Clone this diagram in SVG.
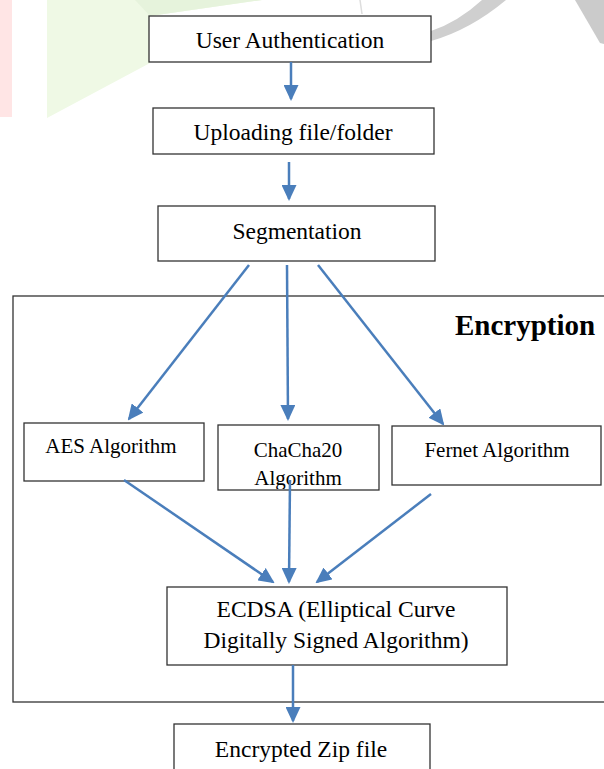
<svg xmlns="http://www.w3.org/2000/svg" width="604" height="769" viewBox="0 0 604 769">
<style>
.box{fill:#fff;stroke:#333;stroke-width:1.3}
.t{font-family:"Liberation Serif","Times New Roman",serif;font-size:23.5px;fill:#000;text-anchor:middle}
.s{font-size:21px}
.c{stroke:#4A7EBB;stroke-width:2.5;fill:none;marker-end:url(#ah)}
</style>
<defs>
<marker id="ah" viewBox="0 0 16 15" refX="14" refY="7.5" markerWidth="16" markerHeight="15" orient="auto" markerUnits="userSpaceOnUse">
<path d="M0,0 L16,7.5 L0,15 Z" fill="#4A7EBB"/>
</marker>
<clipPath id="cc"><rect x="218" y="425" width="161" height="64"/></clipPath>
</defs>
<rect width="604" height="769" fill="#fff"/>
<g id="watermark">
<rect x="0" y="0" width="12" height="117" fill="#FFE5E5"/>
<polygon points="47,0 262,0 150,16 150,63 47,118" fill="#EFF9E5"/>
<polygon points="135,0 262,0 150,16" fill="#E6F3DC"/>
<line x1="360" y1="0" x2="362" y2="14" stroke="#DDD" stroke-width="1.5"/>
<path d="M431,41 Q470,30 506,0 L482,0 Q458,22 431,31 Z" fill="#CFCFCF"/>
<polygon points="575,0 604,0 604,44 600,43" fill="#CBCBCB"/>
</g>
<g id="encryption-frame">
<rect x="13" y="296" width="600" height="406" fill="none" stroke="#333" stroke-width="1.3"/>
<text x="455" y="335" style="font-family:'Liberation Serif','Times New Roman',serif;font-size:29px;font-weight:bold">Encryption</text>
</g>
<g id="n-user-auth">
<rect class="box" x="149" y="16" width="282" height="46"/>
<text class="t" x="290" y="48">User Authentication</text>
</g>
<g id="n-upload">
<rect class="box" x="153" y="108" width="281" height="46"/>
<text class="t" x="293" y="140">Uploading file/folder</text>
</g>
<g id="n-segmentation">
<rect class="box" x="158" y="206" width="277" height="55"/>
<text class="t" x="297" y="239">Segmentation</text>
</g>
<g id="n-aes">
<rect class="box" x="24" y="423" width="180" height="58"/>
<text class="t s" x="111" y="453">AES Algorithm</text>
</g>
<g id="n-chacha">
<rect class="box" x="218" y="425" width="161" height="65"/>
<g clip-path="url(#cc)">
<text class="t s" x="298" y="457">ChaCha20</text>
<text class="t s" x="298" y="485">Algorithm</text>
</g>
</g>
<g id="n-fernet">
<rect class="box" x="392" y="426" width="209" height="59"/>
<text class="t s" x="497" y="457">Fernet Algorithm</text>
</g>
<g id="n-ecdsa">
<rect class="box" x="167" y="587" width="340" height="78"/>
<text class="t" x="336" y="617">ECDSA (Elliptical Curve</text>
<text class="t" x="336" y="648">Digitally Signed Algorithm)</text>
</g>
<g id="n-zip">
<rect class="box" x="174" y="724" width="256" height="60"/>
<text class="t" x="301" y="757">Encrypted Zip file</text>
</g>
<g id="connectors">
<line class="c" x1="291" y1="62" x2="291" y2="99"/>
<line class="c" x1="289" y1="162" x2="289" y2="199"/>
<line class="c" x1="249" y1="265" x2="129" y2="419"/>
<line class="c" x1="287" y1="265" x2="288" y2="419"/>
<line class="c" x1="318" y1="265" x2="443" y2="424"/>
<line class="c" x1="124" y1="480" x2="273" y2="582"/>
<line class="c" x1="290" y1="480" x2="289" y2="582"/>
<line class="c" x1="431" y1="494" x2="317" y2="582"/>
<line class="c" x1="293" y1="665" x2="293" y2="721"/>
</g>
</svg>
